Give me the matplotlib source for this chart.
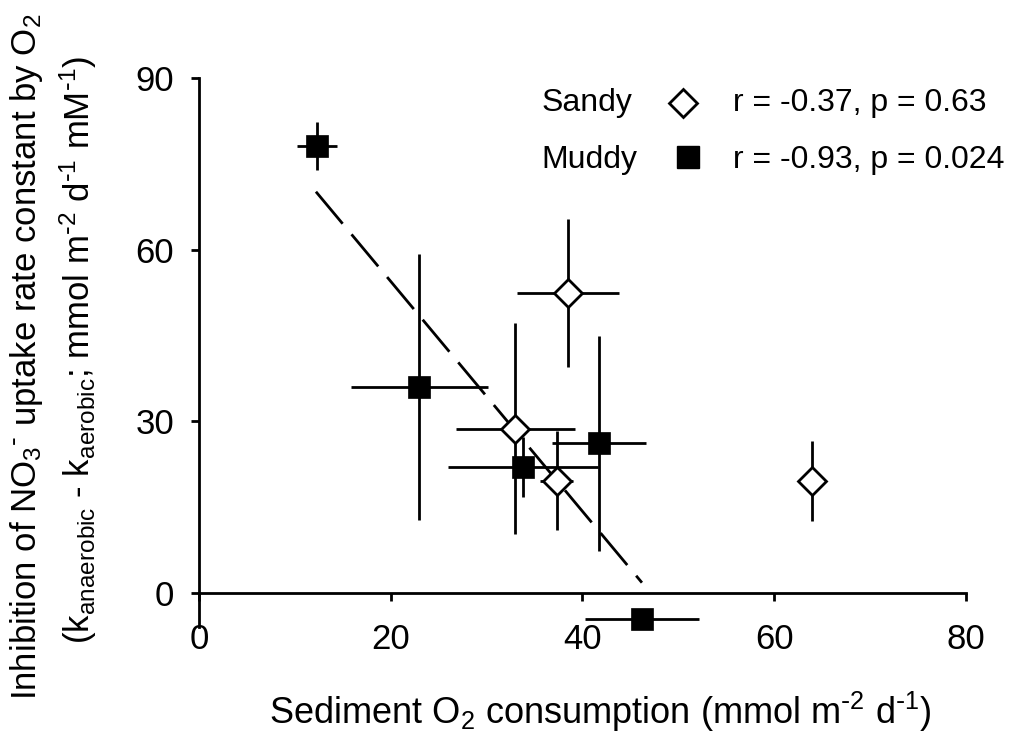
import numpy as np
import matplotlib
matplotlib.use("Agg")
import matplotlib.pyplot as plt

plt.rcParams['font.family'] = ['Liberation Sans', 'DejaVu Sans']
plt.rcParams['mathtext.default'] = 'regular'

# sandy sediments (open diamonds)
sandy_x = [38.5, 33.0, 37.3, 63.9]
sandy_y = [52.4, 28.7, 19.6, 19.6]
sandy_xerr = [5.3, 6.2, 1.7, 0.0]
sandy_yerr = [12.9, 18.5, 8.7, 7.0]

# muddy sediments (filled squares)
muddy_x = [12.3, 23.0, 33.8, 41.7, 46.2]
muddy_y = [78.1, 36.0, 22.0, 26.1, -4.6]
muddy_xerr = [2.1, 7.1, 7.8, 4.9, 5.9]
muddy_yerr = [4.2, 23.3, 5.3, 18.8, 0.0]

sandy_stats = "r = -0.37, p = 0.63"
muddy_stats = "r = -0.93, p = 0.024"

fig = plt.figure(figsize=(10.09, 7.36), dpi=100)
ax = fig.add_axes([0.1972, 0.148, 0.7602, 0.746])

# regression line for muddy
slope, icept = np.polyfit(muddy_x, muddy_y, 1)
xx = np.array([min(muddy_x) - 0.1, max(muddy_x)])
ax.plot(xx, slope * xx + icept, color='black', lw=2, dashes=(15, 5), zorder=1)

ax.errorbar(muddy_x, muddy_y, xerr=muddy_xerr, yerr=muddy_yerr, fmt='none',
            ecolor='black', elinewidth=2, capsize=0, zorder=2, clip_on=False)
ax.errorbar(sandy_x, sandy_y, xerr=sandy_xerr, yerr=sandy_yerr, fmt='none',
            ecolor='black', elinewidth=2, capsize=0, zorder=2, clip_on=False)
ax.plot(muddy_x, muddy_y, 's', color='black', ms=16, mec='black', mew=0.5,
        zorder=3, clip_on=False)
ax.plot(sandy_x, sandy_y, 'D', mfc='white', mec='black', ms=14.5, mew=2,
        zorder=4, clip_on=False)

# legend built by hand (label, marker, stats)
ax.text(0.4468, 0.9545, "Sandy", transform=ax.transAxes, fontsize=23,
        ha='left', va='center')
ax.text(0.4468, 0.8507, "Muddy", transform=ax.transAxes, fontsize=23,
        ha='left', va='center')
ax.plot([0.631], [0.9545], 'D', mfc='white', mec='black', ms=14.5, mew=2,
        transform=ax.transAxes, clip_on=False)
ax.plot([0.6375], [0.856], 's', color='black', ms=16, transform=ax.transAxes,
        clip_on=False)
ax.text(0.696, 0.9545, sandy_stats, transform=ax.transAxes, fontsize=23,
        ha='left', va='center')
ax.text(0.696, 0.8507, muddy_stats, transform=ax.transAxes, fontsize=23,
        ha='left', va='center')

ax.set_xlim(0, 80)
ax.set_ylim(-6, 90)
ax.set_xticks([0, 20, 40, 60, 80])
ax.set_yticks([0, 30, 60, 90])
ax.spines['top'].set_visible(False)
ax.spines['right'].set_visible(False)
ax.spines['bottom'].set_position(('data', 0))
for s in ['left', 'bottom']:
    ax.spines[s].set_linewidth(2)
ax.tick_params(axis='both', direction='out', length=6, width=2, labelsize=25)
ax.tick_params(axis='y', pad=12)
ax.tick_params(axis='x', pad=16)

ax.set_xlabel(r"Sediment O$_2$ consumption (mmol m$^{\text{-}2}$ d$^{\text{-}1}$)",
              fontsize=26, labelpad=24)
ax.xaxis.label.set_x(0.523)

fig.text(0.026, 0.515, r"Inhibition of NO$_3$$^{\text{-}}$ uptake rate constant by O$_2$",
         rotation=90, fontsize=25, ha='center', va='center')
fig.text(0.078, 0.525,
         r"(k$_{anaerobic}$ - k$_{aerobic}$; mmol m$^{\text{-}2}$ d$^{\text{-}1}$ mM$^{\text{-}1}$)",
         rotation=90, fontsize=25, ha='center', va='center')

fig.savefig("out.png", dpi=100)
